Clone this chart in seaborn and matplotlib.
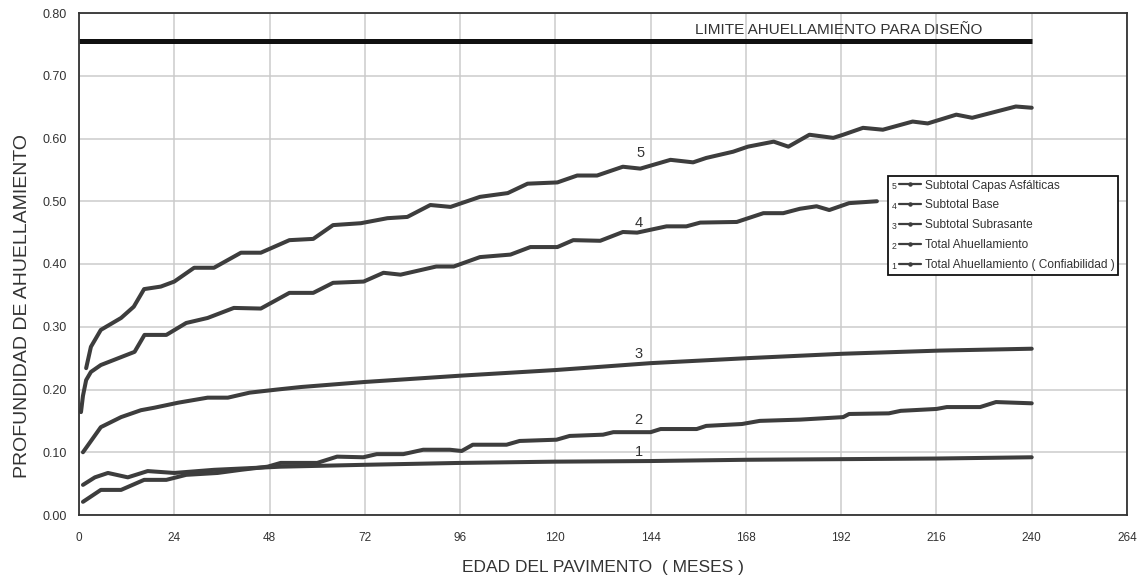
import matplotlib
matplotlib.use("Agg")
import matplotlib.pyplot as plt
import seaborn as sns
import pandas as pd
from matplotlib.lines import Line2D
from matplotlib.text import Text
from matplotlib.legend_handler import HandlerBase

# ---------------- data ----------------
x_ticks = [0, 24, 48, 72, 96, 120, 144, 168, 192, 216, 240, 264]
y_ticks = [0.0, 0.1, 0.2, 0.3, 0.4, 0.5, 0.6, 0.7, 0.8]

limit_value = 0.755
limit_months = [0, 240]
limit_label = "LIMITE AHUELLAMIENTO PARA DISEÑO"

m5 = [1.8, 3, 5.5, 10.6, 13.8, 16.4, 20.6, 24, 29, 34, 40.8, 45.8, 53, 59, 64, 71,
      77.7, 82.7, 88.5, 93.6, 101, 108, 113, 120.5, 125.5, 130.5, 137, 141.4, 149,
      154.7, 158, 164.8, 168.5, 175, 178.7, 184, 190, 192.5, 197.5, 202.5, 210,
      213.8, 221, 225, 236, 240]
d5 = [.234, .268, .295, .314, .332, .360, .364, .372, .394, .394, .418, .418, .438,
      .440, .462, .465, .473, .475, .494, .491, .507, .513, .528, .530, .541, .541,
      .555, .552, .566, .562, .569, .579, .587, .595, .587, .606, .601, .606, .617,
      .614, .627, .624, .638, .633, .651, .649]

m4 = [0.5, 1.0, 1.8, 3, 5.5, 14, 16.5, 22, 27, 32.4, 39, 45.8, 53, 59, 64, 71.7, 76.7,
      81, 90, 94.4, 101, 108.7, 113.7, 120.5, 124.5, 131.3, 137, 140.6, 148, 153,
      156.5, 165.7, 172.4, 177.4, 181.6, 185.8, 189, 194, 201]
d4 = [.164, .190, .215, .228, .239, .260, .287, .287, .306, .314, .330, .329, .354,
      .354, .370, .372, .386, .383, .396, .396, .411, .415, .427, .427, .438, .437,
      .451, .450, .460, .460, .466, .467, .481, .481, .488, .492, .486, .497, .500]

m3 = [1, 5.5, 10.6, 15.6, 19, 25, 32.4, 37.5, 43, 50, 56, 72, 96, 120, 131, 144,
      168.5, 192.5, 216.8, 240]
d3 = [.100, .140, .156, .167, .171, .179, .187, .187, .195, .200, .204, .212, .222,
      .231, .236, .242, .250, .257, .262, .265]

m2 = [1, 5.5, 10.6, 16.4, 22, 27, 34.9, 40.8, 47.5, 50.8, 60, 65, 71.6, 75, 81.7,
      86.7, 93.4, 96.4, 99.2, 107.7, 111, 120.3, 123.6, 132, 134.6, 144, 146.5,
      155.6, 158, 167, 171.5, 181.6, 192.5, 194, 204, 207, 216, 218.6, 227, 231, 240]
d2 = [.021, .040, .040, .056, .056, .064, .067, .072, .077, .083, .083, .093, .092,
      .097, .097, .104, .104, .102, .112, .112, .118, .120, .126, .128, .132, .132,
      .137, .137, .142, .145, .150, .152, .156, .161, .162, .166, .169, .172, .172,
      .180, .178]

m1 = [1, 4, 7.3, 12.3, 17.3, 24, 34, 50.8, 72, 96, 120, 144, 168, 192, 216, 240]
d1 = [.048, .060, .067, .060, .070, .067, .072, .077, .080, .083, .085, .086, .088,
      .089, .090, .092]

series_ids = ["5", "4", "3", "2", "1"]
series_names = ["Subtotal Capas Asfálticas", "Subtotal Base", "Subtotal Subrasante",
                "Total Ahuellamiento", "Total Ahuellamiento ( Confiabilidad )"]
series_months = [m5, m4, m3, m2, m1]
series_depth = [d5, d4, d3, d2, d1]
# label positions (month, depth) for curve numbers
label_month = [141.4, 141.0, 141.0, 141.0, 141.0]
label_depth = [0.577, 0.466, 0.257, 0.152, 0.100]

# ---------------- style ----------------
sns.set_style("whitegrid")
plt.rcParams['font.family'] = ['Liberation Sans', 'DejaVu Sans']
TXT = "#333333"
LINE = "#3d3d3d"
NARROW = ['Liberation Sans Narrow', 'Liberation Sans', 'DejaVu Sans']

frames = []
for sid, mm, dd in zip(series_ids, series_months, series_depth):
    frames.append(pd.DataFrame({"mes": mm, "prof": dd, "serie": sid}))
df = pd.concat(frames, ignore_index=True)

fig = plt.figure(figsize=(11.44, 5.80), dpi=100)
ax = fig.add_axes([79 / 1144, 65 / 580, (1127 - 79) / 1144, (515 - 13) / 580])

sns.lineplot(data=df, x="mes", y="prof", hue="serie", palette={s: LINE for s in series_ids},
             estimator=None, sort=False, linewidth=2.9, legend=False, ax=ax)
for ln in ax.get_lines():
    ln.set_solid_joinstyle("round")
    ln.set_solid_capstyle("round")

ax.plot(limit_months, [limit_value, limit_value], color="#111111", linewidth=3.6,
        solid_capstyle="butt")
ax.text(155.2, 0.773, limit_label, fontsize=11, color=TXT, va="center", ha="left")

for sid, lm, ld in zip(series_ids, label_month, label_depth):
    ax.text(lm, ld, sid, fontsize=10.5, color=TXT, ha="center", va="center")

ax.set_xlim(0, 264)
ax.set_ylim(0, 0.8)
ax.set_xticks(x_ticks)
ax.set_yticks(y_ticks)
ax.set_xticklabels([str(t) for t in x_ticks], fontsize=8.5, color=TXT, family=NARROW)
ax.set_yticklabels([f"{t:.2f}" for t in y_ticks], fontsize=9, color=TXT)
ax.grid(True, color="#cbcbcb", linewidth=1.1)
ax.tick_params(axis="x", direction="inout", length=9, width=1.1, color="#333333", pad=8)
ax.tick_params(axis="y", direction="out", length=5, width=1.1, color="#333333", pad=4)
for side in ["left", "bottom", "top", "right"]:
    ax.spines[side].set_visible(True)
    ax.spines[side].set_color("#333333")
    ax.spines[side].set_linewidth(1.3)

ax.set_xlabel("EDAD DEL PAVIMENTO  ( MESES )", fontsize=12.5, color=TXT, labelpad=11,
              family=NARROW)
ax.set_ylabel("PROFUNDIDAD DE AHUELLAMIENTO", fontsize=14, color=TXT)
ax.yaxis.set_label_coords((31 - 79) / 1048, (515 - 306) / 502)


class NumberedHandler(HandlerBase):
    def __init__(self, num):
        super().__init__()
        self.num = num

    def create_artists(self, legend, orig_handle, xdescent, ydescent, width, height,
                       fontsize, trans):
        y = height / 2 - ydescent
        x0 = -xdescent
        t = Text(x0, y - 1.5, self.num, fontsize=6.3, color=TXT, ha="left", va="center")
        t.set_transform(trans)
        ln = Line2D([x0 + 0.25 * width, x0 + width], [y, y], color=LINE, linewidth=1.6)
        ln.set_transform(trans)
        mk = Line2D([x0 + 0.62 * width], [y], marker="o", markersize=2.2, color=LINE,
                    linestyle="none")
        mk.set_transform(trans)
        return [t, ln, mk]


handles = [Line2D([], [], color=LINE) for _ in series_ids]
hmap = {h: NumberedHandler(n) for h, n in zip(handles, series_ids)}
leg = ax.legend(handles, series_names, handler_map=hmap, loc="upper left",
                bbox_to_anchor=((888 - 79) / 1048, (515 - 176) / 502), borderaxespad=0,
                fontsize=8.6, frameon=True, fancybox=False, framealpha=1,
                edgecolor="#111111", handlelength=2.5, handletextpad=0.3,
                labelspacing=0.66, borderpad=0.3)
leg.get_frame().set_linewidth(1.3)
for t in leg.get_texts():
    t.set_color(TXT)

fig.savefig("out.png", dpi=100, facecolor="white")
